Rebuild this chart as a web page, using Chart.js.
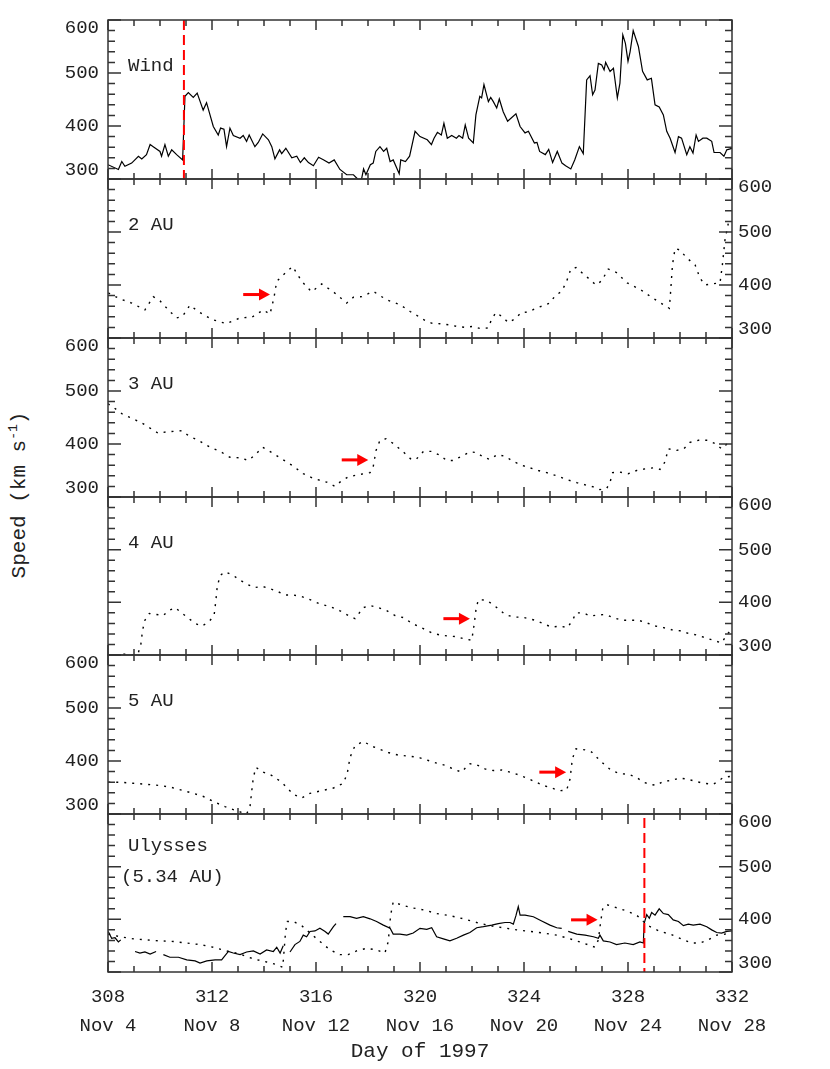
<!DOCTYPE html>
<html>
<head>
<meta charset="utf-8">
<script src="https://cdn.jsdelivr.net/npm/chart.js@4.4.1/dist/chart.umd.min.js"></script>
<style>
  html, body { margin: 0; padding: 0; background: #fff; }
  #page { position: relative; width: 830px; height: 1069px; overflow: hidden; }
  #page canvas { position: absolute; left: 0; }
  #ytitle {
    position: absolute; left: 18px; top: 495px;
    transform: translate(-50%, -50%) rotate(-90deg);
    font: 21px "Liberation Mono", monospace; color: #222; white-space: nowrap;
  }
  #ytitle sup { font-size: 13px; }
</style>
</head>
<body>
<div id="page">
  <div id="ytitle">Speed (km s<sup>-1</sup>)</div>
</div>
<script>
// x axis: day of 1997
const dayTicks = [308, 312, 316, 320, 324, 328, 332];
const dateLabels = ['Nov 4', 'Nov 8', 'Nov 12', 'Nov 16', 'Nov 20', 'Nov 24', 'Nov 28'];
const speedLabels = [300, 400, 500, 600];

// Wind (1 AU) observed speed
const windDay = [308.0, 308.4, 308.53, 308.65, 308.91, 309.17, 309.3, 309.48, 309.62, 309.74, 310.0, 310.06, 310.19, 310.32, 310.45, 310.64, 310.87,
  310.96, 311.09, 311.28, 311.43, 311.66, 311.79, 312.05, 312.24, 312.33, 312.46, 312.56, 312.69, 312.82, 313.08, 313.2, 313.33, 313.43, 313.65,
  313.78, 313.95, 314.17, 314.3, 314.42, 314.6, 314.68, 314.84, 315.07, 315.26, 315.4, 315.55, 315.71, 315.9, 316.1, 316.3, 316.5, 316.7, 316.92,
  317.18, 317.44, 317.6, 317.72, 317.83, 317.92, 318.09, 318.2, 318.3, 318.46, 318.6, 318.72, 318.85, 318.97, 319.2, 319.26, 319.44, 319.6, 319.81,
  320.0, 320.28, 320.44, 320.54, 320.67, 320.82, 320.92, 321.05, 321.22, 321.4, 321.5, 321.64, 321.74, 321.87, 322.05, 322.15, 322.3, 322.37,
  322.46, 322.63, 322.72, 322.82, 322.95, 323.05, 323.2, 323.37, 323.69, 323.85, 324.04, 324.17, 324.4, 324.5, 324.6, 324.82, 324.95, 325.1,
  325.28, 325.46, 325.6, 325.8, 325.95, 326.13, 326.28, 326.41, 326.54, 326.64, 326.73, 326.86, 326.99, 327.08, 327.14, 327.31, 327.44, 327.59,
  327.69, 327.8, 327.9, 328.0, 328.08, 328.2, 328.4, 328.56, 328.74, 328.9, 329.04, 329.2, 329.36, 329.49, 329.62, 329.81, 329.94, 330.06,
  330.26, 330.38, 330.5, 330.62, 330.71, 330.88, 331.03, 331.22, 331.31, 331.54, 331.69, 331.8, 332.0];
const windSpeed = [327, 318, 333, 324, 330, 343, 338, 346, 365, 361, 352, 343, 365, 343, 355, 346, 336,
  456, 463, 454, 462, 430, 444, 399, 383, 396, 394, 361, 396, 382, 377, 382, 371, 383, 361,
  369, 385, 374, 361, 338, 355, 348, 358, 340, 343, 331, 340, 331, 325, 341, 336, 330, 336, 318,
  308, 308, 300, 292, 319, 308, 327, 330, 352, 361, 352, 358, 333, 336, 310, 336, 333, 343, 390,
  380, 374, 365, 377, 388, 383, 405, 377, 382, 377, 382, 377, 402, 377, 368, 421, 456, 453,
  478, 446, 454, 446, 434, 451, 427, 409, 423, 399, 387, 390, 368, 369, 352, 346, 356, 331,
  352, 330, 325, 319, 336, 361, 348, 487, 495, 459, 468, 518, 515, 506, 520, 503, 509, 453,
  481, 572, 556, 522, 540, 580, 550, 503, 487, 490, 440, 436, 421, 390, 377, 350, 380, 377,
  346, 361, 349, 383, 371, 377, 377, 371, 350, 350, 343, 355, 358];

// Model runs at 2, 3, 4, 5 AU
const au2Day = [308.01, 308.45, 308.91, 309.42, 309.74, 310.0, 310.38, 310.64, 310.87, 311.15, 311.47, 311.99, 312.56, 313.08, 313.53,
  313.97, 314.23, 314.38, 314.49, 314.74, 315.1, 315.45, 315.83, 316.22, 316.67, 317.18, 317.44, 317.76, 318.2, 318.72, 319.23, 319.62,
  319.93, 320.12, 320.44, 320.77, 321.1, 321.41, 321.74, 322.03, 322.3, 322.63, 322.75, 322.92, 323.14, 323.4, 323.65, 323.9, 324.17,
  324.46, 324.74, 325.0, 325.2, 325.45, 325.64, 325.8, 326.0, 326.28, 326.54, 326.77, 326.99, 327.24, 327.54, 327.97, 328.49, 328.87,
  329.13, 329.59, 329.64, 329.71, 329.81, 330.0, 330.26, 330.58, 330.77, 330.96, 331.22, 331.54, 331.63, 331.73, 331.86, 331.95];
const au2Speed = [385, 374, 366, 353, 378, 370, 350, 338, 341, 362, 350, 335, 327, 338, 339,
  353, 345, 375, 407, 419, 435, 407, 387, 402, 387, 366, 377, 378, 388, 372, 363, 350,
  341, 335, 328, 327, 325, 322, 320, 322, 318, 319, 335, 348, 341, 329, 336, 348, 349,
  356, 361, 366, 380, 388, 407, 430, 433, 421, 410, 400, 408, 430, 424, 404, 391, 378,
  370, 356, 388, 438, 469, 466, 451, 438, 413, 400, 402, 404, 438, 485, 517, 520];

const au3Day = [308.0, 308.27, 308.59, 308.91, 309.36, 309.68, 309.94, 310.26, 310.83, 311.09, 311.54, 311.92, 312.31, 312.69, 313.08,
  313.4, 313.65, 313.95, 314.29, 314.68, 315.07, 315.51, 315.9, 316.41, 316.73, 316.92, 317.24, 317.63, 318.08, 318.2, 318.31, 318.46,
  318.69, 318.97, 319.36, 319.68, 319.87, 320.13, 320.45, 320.71, 321.03, 321.28, 321.6, 321.92, 322.18, 322.44, 322.69, 322.97, 323.27,
  323.59, 323.91, 324.23, 324.55, 324.87, 325.26, 325.64, 326.03, 326.35, 326.67, 326.92, 327.18, 327.31, 327.41, 327.69, 328.01, 328.33,
  328.65, 328.97, 329.23, 329.42, 329.55, 329.87, 330.15, 330.38, 330.71, 331.05, 331.35, 331.6, 331.92];
const au3Speed = [476, 467, 455, 449, 438, 428, 420, 423, 425, 416, 405, 394, 386, 375, 374,
  369, 379, 394, 384, 372, 360, 344, 335, 328, 320, 328, 338, 342, 346, 357, 388, 407,
  410, 401, 385, 370, 372, 386, 386, 380, 369, 369, 377, 385, 384, 375, 371, 380, 377,
  367, 360, 355, 350, 346, 340, 333, 327, 323, 319, 314, 316, 328, 346, 347, 344, 350,
  353, 355, 352, 366, 391, 388, 391, 403, 407, 407, 401, 391, 405];

const au4Day = [308.0, 308.59, 308.9, 309.17, 309.26, 309.33, 309.42, 309.59, 309.85, 310.13, 310.32, 310.58, 310.83, 311.09, 311.35,
  311.6, 311.86, 312.08, 312.15, 312.2, 312.31, 312.5, 312.82, 313.08, 313.33, 313.62, 313.95, 314.23, 314.55, 314.81, 315.13, 315.45,
  315.77, 316.15, 316.54, 316.92, 317.24, 317.5, 317.82, 318.08, 318.4, 318.72, 319.04, 319.36, 319.7, 320.13, 320.45, 320.77, 321.09,
  321.41, 321.67, 321.99, 322.08, 322.15, 322.24, 322.57, 322.76, 323.01, 323.27, 323.59, 323.91, 324.2, 324.49, 324.81, 325.06, 325.38,
  325.67, 325.87, 326.0, 326.28, 326.54, 326.86, 327.12, 327.44, 327.76, 328.08, 328.4, 328.72, 329.04, 329.36, 329.68, 330.0, 330.32,
  330.64, 330.96, 331.28, 331.6, 331.8, 331.95];
const au4Speed = [294, 302, 299, 305, 319, 347, 366, 379, 377, 375, 384, 390, 380, 370, 360,
  355, 362, 375, 404, 429, 451, 458, 451, 442, 435, 428, 430, 426, 420, 414, 414, 411,
  405, 397, 392, 384, 375, 369, 390, 394, 390, 384, 375, 371, 360, 350, 342, 338, 336,
  335, 331, 328, 357, 385, 405, 404, 397, 388, 377, 372, 372, 369, 365, 358, 353, 355,
  352, 366, 380, 380, 374, 376, 377, 371, 366, 366, 366, 361, 355, 352, 348, 346, 341,
  338, 333, 328, 323, 338, 347];

const au5Day = [308.01, 308.46, 308.97, 309.49, 309.94, 310.38, 310.83, 311.28, 311.67, 312.12, 312.5, 312.95, 313.33, 313.46, 313.53,
  313.59, 313.69, 313.97, 314.29, 314.68, 315.13, 315.45, 315.77, 316.22, 316.67, 317.05, 317.2, 317.31, 317.5, 317.82, 318.14, 318.46,
  318.78, 319.17, 319.62, 320.0, 320.32, 320.64, 320.96, 321.28, 321.6, 321.9, 322.18, 322.5, 322.82, 323.14, 323.46, 323.78, 324.1,
  324.42, 324.74, 325.06, 325.38, 325.64, 325.77, 325.86, 326.0, 326.35, 326.6, 326.86, 327.12, 327.37, 327.69, 328.01, 328.33, 328.59,
  328.85, 329.1, 329.36, 329.68, 329.97, 330.26, 330.58, 330.9, 331.28, 331.47, 331.67, 331.95];
const au5Speed = [360, 360, 358, 356, 354, 351, 345, 339, 333, 322, 314, 306, 300, 313, 344,
  369, 388, 379, 373, 360, 337, 330, 339, 344, 349, 358, 376, 407, 429, 437, 428, 422,
  416, 411, 409, 406, 401, 396, 392, 385, 379, 395, 393, 385, 382, 383, 379, 374, 368,
  361, 354, 349, 344, 345, 366, 404, 423, 421, 417, 404, 392, 382, 376, 375, 369, 360,
  356, 354, 362, 363, 368, 366, 362, 358, 356, 362, 369, 371];

// Ulysses (5.34 AU): model (dotted) and observed (solid, null = data gap)
const ulsModelDay = [308.01, 308.46, 308.97, 309.49, 310.0, 310.51, 311.03, 311.54, 312.05, 312.56, 313.08, 313.59, 314.1, 314.49, 314.72,
  314.77, 314.83, 314.9, 315.13, 315.45, 315.77, 316.15, 316.54, 316.92, 317.24, 317.56, 317.95, 318.33, 318.65, 318.78, 318.87, 318.97,
  319.3, 319.68, 320.13, 320.64, 321.15, 321.67, 322.18, 322.69, 323.2, 323.72, 324.23, 324.74, 325.26, 325.77, 326.28, 326.73, 326.86,
  326.95, 327.03, 327.18, 327.56, 327.95, 328.33, 328.59, 328.85, 329.23, 329.62, 330.0, 330.45, 330.77, 331.09, 331.41, 331.73, 332.0];
const ulsModelSpeed = [372, 367, 363, 361, 359, 358, 355, 352, 347, 340, 334, 325, 319, 314, 309,
  339, 377, 396, 396, 388, 374, 358, 342, 333, 333, 340, 345, 342, 336, 358, 408, 433,
  427, 422, 418, 411, 407, 401, 394, 388, 384, 380, 377, 374, 370, 363, 355, 347, 361,
  396, 421, 428, 422, 416, 408, 396, 386, 377, 372, 364, 355, 355, 361, 370, 372, 375];

const ulsDay = [308.01, 308.14, 308.27, 308.4, 308.49, 308.75, 309.04, 309.23, 309.42, 309.62, 309.85, 310.0, 310.13, 310.38, 310.71,
  311.03, 311.35, 311.54, 311.8, 312.12, 312.37, 312.63, 312.82, 313.08, 313.33, 313.59, 313.85, 314.1, 314.36, 314.49, 314.62, 314.74,
  314.87, 315.0, 315.19, 315.38, 315.51, 315.64, 315.77, 315.96, 316.15, 316.35, 316.47, 316.67, 316.77, 316.9, 317.05, 317.31, 317.56,
  317.82, 318.08, 318.33, 318.59, 318.85, 318.97, 319.23, 319.49, 319.74, 320.0, 320.26, 320.45, 320.64, 320.9, 321.15, 321.41, 321.67,
  321.92, 322.18, 322.44, 322.76, 323.01, 323.27, 323.46, 323.59, 323.69, 323.78, 323.85, 324.04, 324.36, 324.68, 325.0, 325.26, 325.45,
  325.58, 325.7, 326.03, 326.35, 326.67, 326.86, 326.92, 327.05, 327.31, 327.56, 327.88, 328.2, 328.46, 328.59, 328.62, 328.72, 328.82,
  328.91, 329.04, 329.2, 329.36, 329.55, 329.74, 329.94, 330.13, 330.32, 330.51, 330.77, 331.03, 331.22, 331.41, 331.6, 331.8, 332.0];
const ulsSpeed = [377, 364, 365, 357, 361, null, 339, 336, 338, 334, 339, null, 333, 328, 328,
  323, 321, 317, 321, 323, 323, 339, 336, 333, 338, 340, 334, 342, 339, 347, 336, 350,
  null, 338, 352, 358, 370, 367, 377, 378, 383, 377, 372, 386, 392, null, 405, 405, 402,
  405, 401, 396, 389, 383, 372, 372, 370, 374, 383, 381, 384, 367, 363, 359, 364, 370,
  375, 384, 386, 389, 392, 394, 394, 391, 407, 424, 408, 408, 405, 397, 389, 384, 383,
  null, 377, 372, 370, 367, 364, 370, 359, 357, 352, 355, 352, 357, 355, 392, 409, 402,
  413, 408, 420, 411, 409, 399, 396, 388, 391, 389, 391, 386, 380, 375, 374, 377, 378];

// red arrows marking the stream interaction (start day, end day, speed)
const arrowFrom = [null, 313.2, 316.99, 320.9, 324.59, 325.81];
const arrowTo = [null, 314.23, 318.01, 321.92, 325.62, 326.83];
const arrowSpeed = [null, 382, 370, 369, 379, 399];

// shock arrivals (red dashed lines)
const shockDay = [310.92, null, null, null, null, 328.63];

const panelNames = [['Wind'], ['2 AU'], ['3 AU'], ['4 AU'], ['5 AU'], ['Ulysses', '(5.34 AU)']];
const panelSeries = [
  [{ day: windDay, speed: windSpeed, dotted: false }],
  [{ day: au2Day, speed: au2Speed, dotted: true }],
  [{ day: au3Day, speed: au3Speed, dotted: true }],
  [{ day: au4Day, speed: au4Speed, dotted: true }],
  [{ day: au5Day, speed: au5Speed, dotted: true }],
  [{ day: ulsModelDay, speed: ulsModelSpeed, dotted: true }, { day: ulsDay, speed: ulsSpeed, dotted: false }]
];

// layout
const panelTop = [20, 179, 338, 497, 655, 814];
const panelBottom = [179, 338, 497, 655, 814, 972];
const FONT = '"Liberation Mono", monospace';
const INK = '#222';

const panelFrame = {
  id: 'panelFrame',
  afterDatasetsDraw(chart, args, opts) {
    const { ctx, chartArea: a, scales: { x, y } } = chart;
    ctx.save();

    // red dashed shock line
    if (opts.shock != null) {
      const sx = x.getPixelForValue(opts.shock);
      ctx.strokeStyle = '#f00';
      ctx.lineWidth = 2;
      ctx.setLineDash([10, 5]);
      ctx.beginPath();
      ctx.moveTo(sx, a.top + opts.shockTop);
      ctx.lineTo(sx, a.bottom + opts.shockBottom);
      ctx.stroke();
      ctx.setLineDash([]);
    }

    // frame + ticks
    ctx.strokeStyle = '#333';
    ctx.lineWidth = 1.5;
    ctx.strokeRect(a.left, a.top, a.right - a.left, a.bottom - a.top);
    ctx.beginPath();
    for (let d = 308; d <= 332; d++) {
      const px = x.getPixelForValue(d);
      const len = d % 4 === 0 ? 10 : 6;
      ctx.moveTo(px, a.top); ctx.lineTo(px, a.top + len);
      ctx.moveTo(px, a.bottom); ctx.lineTo(px, a.bottom - len);
    }
    for (let v = 300; v <= 600; v += 20) {
      const py = y.getPixelForValue(v);
      const len = v % 100 === 0 ? 13 : 7;
      ctx.moveTo(a.left, py); ctx.lineTo(a.left + len, py);
      ctx.moveTo(a.right, py); ctx.lineTo(a.right - len, py);
    }
    ctx.stroke();

    // speed labels, alternating sides
    ctx.fillStyle = INK;
    ctx.font = '19px ' + FONT;
    ctx.textBaseline = 'middle';
    ctx.textAlign = opts.side === 'left' ? 'right' : 'left';
    const lx = opts.side === 'left' ? a.left - 9 : a.right + 6;
    speedLabels.forEach(v => {
      const py = Math.min(Math.max(y.getPixelForValue(v), a.top + 8), a.bottom - 9);
      ctx.fillText(String(v), lx, py);
    });

    // panel name
    ctx.textAlign = 'left';
    opts.name.forEach((line, k) => {
      const ox = opts.name.length > 1 && k === 1 ? 13 : 20;
      const oy = opts.name.length > 1 ? 32 + k * 31 : 46;
      ctx.fillText(line, a.left + ox, a.top + oy);
    });

    // red arrow
    if (opts.arrow) {
      const x0 = x.getPixelForValue(opts.arrow[0]);
      const x1 = x.getPixelForValue(opts.arrow[1]);
      const ay = y.getPixelForValue(opts.arrow[2]);
      ctx.fillStyle = '#f00';
      ctx.fillRect(x0, ay - 1.5, x1 - x0 - 10, 3);
      ctx.beginPath();
      ctx.moveTo(x1, ay);
      ctx.lineTo(x1 - 11, ay - 6);
      ctx.lineTo(x1 - 11, ay + 6);
      ctx.closePath();
      ctx.fill();
    }
    ctx.restore();
  }
};

const page = document.getElementById('page');

panelTop.forEach((top, i) => {
  const last = i === panelTop.length - 1;
  const canvasTop = top - 12;
  const canvasHeight = last ? 1069 - canvasTop : panelBottom[i] - top + 24;
  const canvas = document.createElement('canvas');
  canvas.width = 830;
  canvas.height = canvasHeight;
  canvas.style.top = canvasTop + 'px';
  page.appendChild(canvas);

  const datasets = panelSeries[i].map(s => ({
    data: s.day.map((d, k) => ({ x: d, y: s.speed[k] })),
    borderColor: '#000',
    borderWidth: s.dotted ? 1.4 : 1.2,
    borderDash: s.dotted ? [2, 6] : [],
    pointRadius: 0,
    tension: 0,
    spanGaps: false
  }));

  const xScale = {
    type: 'linear', min: 308, max: 332, display: last,
    grid: { display: false, drawTicks: false },
    border: { display: false },
    ticks: {
      stepSize: 4, autoSkip: false, maxRotation: 0, padding: 11, color: INK,
      font: { family: FONT, size: 19, lineHeight: 1.5 },
      callback: v => {
        const k = dayTicks.indexOf(v);
        return k < 0 ? '' : [String(v), dateLabels[k]];
      }
    },
    title: {
      display: true, text: 'Day of 1997', color: INK,
      font: { family: FONT, size: 21 },
      padding: { top: 0, bottom: 5 }
    }
  };
  if (last) xScale.afterFit = scale => { scale.height = 97; };

  new Chart(canvas, {
    type: 'line',
    data: { datasets },
    options: {
      responsive: false,
      animation: false,
      events: [],
      layout: { padding: { left: 108, right: 98, top: 12, bottom: last ? 0 : 12 } },
      plugins: {
        legend: { display: false },
        tooltip: { enabled: false },
        panelFrame: {
          side: i % 2 === 0 ? 'left' : 'right',
          name: panelNames[i],
          arrow: arrowFrom[i] != null ? [arrowFrom[i], arrowTo[i], arrowSpeed[i]] : null,
          shock: shockDay[i],
          shockTop: i === 0 ? 0 : 4,
          shockBottom: i === 0 ? 3 : 0
        }
      },
      scales: {
        x: xScale,
        y: { type: 'linear', min: 300, max: 600, display: false }
      }
    },
    plugins: [panelFrame]
  });
});
</script>
</body>
</html>
